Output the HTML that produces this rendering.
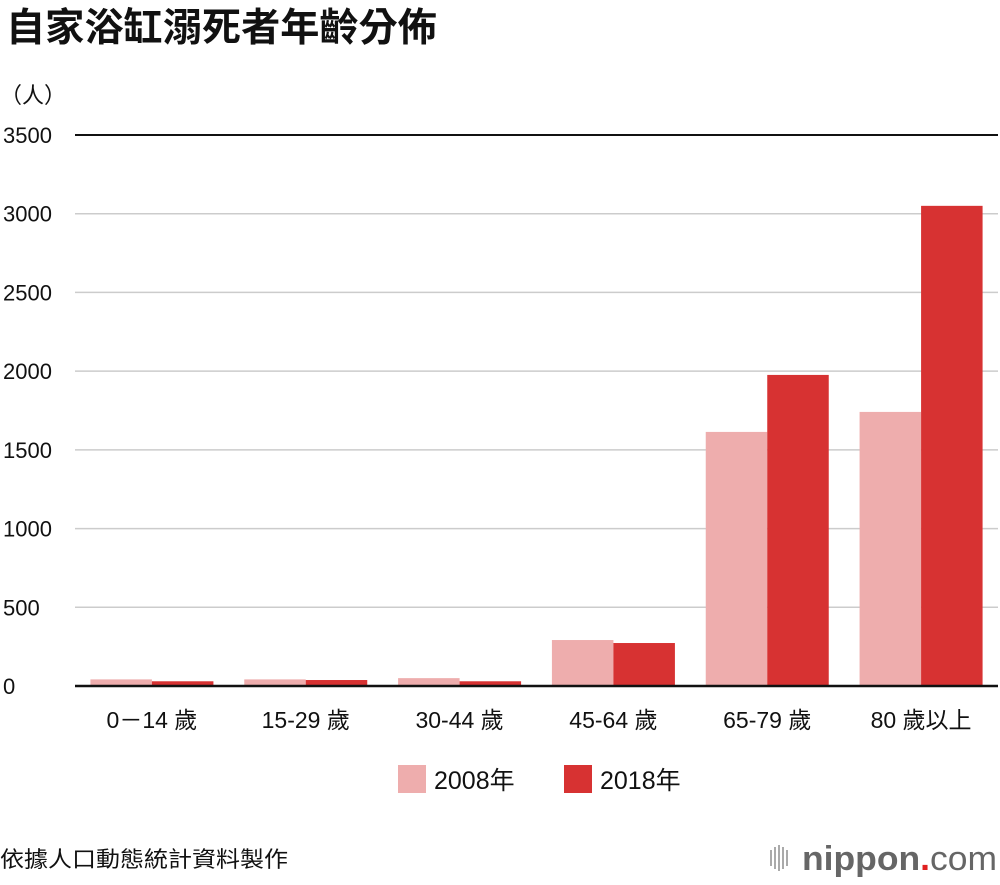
<!DOCTYPE html>
<html><head><meta charset="utf-8"><style>
body{margin:0;width:1000px;height:880px;background:#fff;overflow:hidden;font-family:"Liberation Sans","Noto Sans CJK TC",sans-serif;}
svg text{font-family:"Liberation Sans","Noto Sans CJK TC",sans-serif;}
</style></head><body>
<svg id="chart" width="1000" height="880" xmlns="http://www.w3.org/2000/svg">
<text x="6" y="41" font-size="39" font-weight="bold" fill="#111" textLength="431" lengthAdjust="spacingAndGlyphs">自家浴缸溺死者年齡分佈</text>
<text x="0" y="103" font-size="22" fill="#111">（人）</text>
<g id="grid"></g><g id="bars"></g><g id="labels"></g>
<g>
<rect x="398" y="765" width="28" height="28" fill="#eeadad"/>
<text x="434" y="789" font-size="25" fill="#111">2008年</text>
<rect x="564" y="765" width="28" height="28" fill="#d73232"/>
<text x="600" y="789" font-size="25" fill="#111">2018年</text>
</g>
<text x="0" y="867" font-size="22" fill="#111" textLength="288" lengthAdjust="spacingAndGlyphs">依據人口動態統計資料製作</text>
<g>
<g fill="#aaa"><rect x="770" y="850" width="2" height="16"/><rect x="774" y="847" width="2" height="22"/><rect x="778" y="845" width="2" height="26"/><rect x="782" y="847" width="2" height="22"/><rect x="786" y="850" width="2" height="16"/></g>
<text x="802" y="870" font-size="34" fill="#666" font-weight="bold" textLength="195" lengthAdjust="spacingAndGlyphs">nippon<tspan fill="#e02020">.</tspan><tspan font-weight="normal">com</tspan></text>
</g>
</svg>
<script>
const categories=["0－14 歲","15-29 歲","30-44 歲","45-64 歲","65-79 歲","80 歲以上"];
const values2008=[42,42,50,292,1614,1741];
const values2018=[30,38,30,273,1976,3050];
const yTicks=[0,500,1000,1500,2000,2500,3000,3500];
const NS="http://www.w3.org/2000/svg";
const left=75,right=998,y0=686,yTop=135,yMax=3500;
const y=v=>y0-(v/yMax)*(y0-yTop);
const step=(right-left)/categories.length;
const grid=document.getElementById('grid'),bars=document.getElementById('bars'),labels=document.getElementById('labels');
function mk(tag,attrs,parent){const e=document.createElementNS(NS,tag);for(const k in attrs)e.setAttribute(k,attrs[k]);parent.appendChild(e);return e;}
yTicks.forEach(t=>{
  const l=mk('line',{x1:left,x2:right,y1:y(t),y2:y(t),stroke:(t===yMax?'#111':'#ccc'),'stroke-width':(t===yMax?2:1.5)},grid);
  
  
  const tx=mk('text',{x:3,y:y(t)+8,'font-size':22,fill:'#111'},grid);
  tx.textContent=t;
  
  
});
categories.forEach((c,i)=>{
  const cx=left+step*(i+0.5),bw=61.5;
  const b1=mk('rect',{x:cx-bw,y:y(values2008[i]),width:bw,height:y0-y(values2008[i]),fill:'#eeadad'},bars);
  
  
  const b2=mk('rect',{x:cx,y:y(values2018[i]),width:bw,height:y0-y(values2018[i]),fill:'#d73232'},bars);
  
  
  const t=mk('text',{x:cx,y:728,'font-size':23,fill:'#111','text-anchor':'middle'},labels);
  t.textContent=c;
  
  
});
const ax=mk('line',{x1:left,x2:right,y1:y0,y2:y0,stroke:'#111','stroke-width':2.5},labels);


</script>
</body></html>
